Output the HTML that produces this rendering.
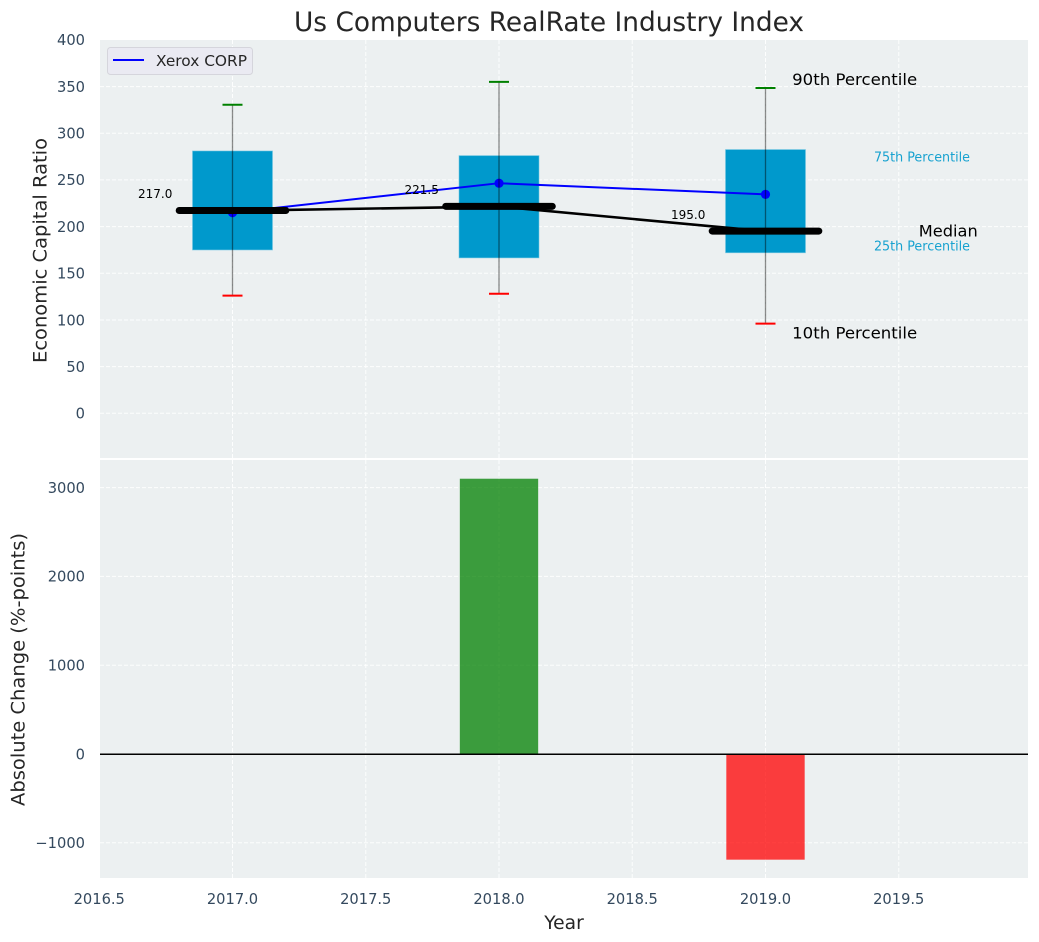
<!DOCTYPE html>
<html>
<head>
<meta charset="utf-8">
<title>Us Computers RealRate Industry Index</title>
<style>
html,body{margin:0;padding:0;background:#fff;width:1039px;height:942px;overflow:hidden}
svg{display:block}
text{font-family:"DejaVu Sans","Liberation Sans",sans-serif}
</style>
</head>
<body>
<svg id="chart" xmlns="http://www.w3.org/2000/svg" width="1039" height="942" viewBox="0 0 1039 942"></svg>
<script>
const years = [2017, 2018, 2019];
const p90 = [330.5, 355, 348.5];
const p75 = [281, 276, 282.5];
const medians = [217, 221.5, 195];
const p25 = [175, 166.5, 172];
const p10 = [126, 128, 96];
const company = [215, 246.5, 234.5];
const companyName = 'Xerox CORP';
const changes = [0, 3100, -1190];
const xTicks = [2016.5, 2017.0, 2017.5, 2018.0, 2018.5, 2019.0, 2019.5];
const yTicksTop = [0, 50, 100, 150, 200, 250, 300, 350, 400];
const yTicksBottom = [-1000, 0, 1000, 2000, 3000];

const NS = 'http://www.w3.org/2000/svg';
const svg = document.getElementById('chart');
const L = 100, R = 1028, T1 = 40, B1 = 458, T2 = 460, B2 = 878;
const X = v => 232.5 + (v - 2017) * 266.5;
const Y1 = v => 413.3 - v * 0.9335;
const Y2 = v => 754 - v * 0.0888;
const BOX_W = 0.3, MED_W = 0.4, CAP = 10;

function el(tag, attrs, txt) {
  const e = document.createElementNS(NS, tag);
  for (const k in attrs) e.setAttribute(k, attrs[k]);
  if (txt !== undefined) e.textContent = txt;
  svg.appendChild(e);
  return e;
}
function fmtTick(v) { return v < 0 ? '\u2212' + Math.abs(v) : String(v); }

let n;
n = el('rect', {x: L, y: T1, width: R - L, height: B1 - T1, fill: '#ecf0f1'});


n = el('rect', {x: L, y: T2, width: R - L, height: B2 - T2, fill: '#ecf0f1'});



const gridStyle = {stroke: '#ffffff', 'stroke-width': 1, 'stroke-dasharray': '4 2', 'stroke-opacity': 0.9};
xTicks.forEach(t => {
  const x = X(t);
  n = el('line', Object.assign({x1: x, x2: x, y1: T1, y2: B1}, gridStyle));
  
  
  n = el('line', Object.assign({x1: x, x2: x, y1: T2, y2: B2}, gridStyle));
  
  
  n = el('text', {x: x, y: 904, 'text-anchor': 'middle', 'font-size': 14.67, fill: '#34495e'}, t.toFixed(1));
  
  
});
yTicksTop.forEach(t => {
  const y = Y1(t);
  if (y > T1 + 1) {
    n = el('line', Object.assign({x1: L, x2: R, y1: y, y2: y}, gridStyle));
    
    
  }
  n = el('text', {x: 85, y: y + 5.3, 'text-anchor': 'end', 'font-size': 14.67, fill: '#34495e'}, fmtTick(t));
  
  
});
yTicksBottom.forEach(t => {
  const y = Y2(t);
  n = el('line', Object.assign({x1: L, x2: R, y1: y, y2: y}, gridStyle));
  
  
  n = el('text', {x: 85, y: y + 5.3, 'text-anchor': 'end', 'font-size': 14.67, fill: '#34495e'}, fmtTick(t));
  
  
});

/* percentile boxes */
years.forEach((yr, i) => {
  const x0 = X(yr - BOX_W / 2), x1 = X(yr + BOX_W / 2);
  n = el('rect', {x: x0, y: Y1(p75[i]), width: x1 - x0, height: Y1(p25[i]) - Y1(p75[i]), fill: '#0099cc', stroke: '#66c2e0', 'stroke-width': 0.8, 'stroke-opacity': 0.7});
  
  
});

/* company markers and line */
const ptsCompany = years.map((yr, i) => X(yr) + ',' + Y1(company[i])).join(' ');
n = el('polyline', {points: ptsCompany, fill: 'none', stroke: '#0000ff', 'stroke-width': 2});


years.forEach((yr, i) => {
  n = el('circle', {cx: X(yr), cy: Y1(company[i]), r: 4.6, fill: '#0000ff'});
  
  
});

/* median connecting line */
const ptsMedian = years.map((yr, i) => X(yr) + ',' + Y1(medians[i])).join(' ');
n = el('polyline', {points: ptsMedian, fill: 'none', stroke: '#000000', 'stroke-width': 2.6});



/* whiskers, caps, medians */
years.forEach((yr, i) => {
  const x = X(yr);
  n = el('line', {x1: x, x2: x, y1: Y1(p90[i]), y2: Y1(p10[i]), stroke: '#000000', 'stroke-width': 1.3, 'stroke-opacity': 0.45});
  
  
  n = el('line', {x1: x - CAP, x2: x + CAP, y1: Y1(p90[i]), y2: Y1(p90[i]), stroke: '#008000', 'stroke-width': 2});
  
  
  n = el('line', {x1: x - CAP, x2: x + CAP, y1: Y1(p10[i]), y2: Y1(p10[i]), stroke: '#ff0000', 'stroke-width': 2});
  
  
  n = el('line', {x1: X(yr - MED_W / 2), x2: X(yr + MED_W / 2), y1: Y1(medians[i]) - 0.2, y2: Y1(medians[i]) - 0.2, stroke: '#000000', 'stroke-width': 7, 'stroke-linecap': 'round'});
  
  
  n = el('text', {x: X(yr - 0.29), y: Y1(medians[i]) - 12.5, 'text-anchor': 'middle', 'font-size': 12, fill: '#000000'}, medians[i].toFixed(1));
  
  
});

/* percentile annotations attached to the last year */
const li = years.length - 1, ly = years[li];
n = el('text', {x: X(ly + 0.1), y: Y1(p90[li]) - 3, 'font-size': 16, textLength: 125, lengthAdjust: 'spacingAndGlyphs', fill: '#000000'}, '90th Percentile');


n = el('text', {x: X(ly + 0.1), y: Y1(p10[li]) + 15, 'font-size': 16, textLength: 125, lengthAdjust: 'spacingAndGlyphs', fill: '#000000'}, '10th Percentile');


n = el('text', {x: X(ly + 0.575), y: Y1(medians[li]) + 5, 'font-size': 16, textLength: 59, lengthAdjust: 'spacingAndGlyphs', fill: '#000000'}, 'Median');


n = el('text', {x: X(ly + 0.407), y: Y1(p75[li]) + 12, 'font-size': 13.33, textLength: 96, lengthAdjust: 'spacingAndGlyphs', fill: '#0099cc', 'fill-opacity': 0.9}, '75th Percentile');


n = el('text', {x: X(ly + 0.407), y: Y1(p25[li]) - 2, 'font-size': 13.33, textLength: 96, lengthAdjust: 'spacingAndGlyphs', fill: '#0099cc', 'fill-opacity': 0.9}, '25th Percentile');



/* change bars */
years.forEach((yr, i) => {
  const v = changes[i];
  const x0 = X(yr - 0.147), x1 = X(yr + 0.147);
  const top = Math.min(Y2(v), Y2(0)), h = Math.abs(Y2(v) - Y2(0));
  n = el('rect', {x: x0, y: top, width: x1 - x0, height: h, fill: v >= 0 ? '#008000' : '#ff0000', 'fill-opacity': 0.75});
  
  
});
n = el('line', {x1: L, x2: R, y1: Y2(0) + 0.2, y2: Y2(0) + 0.2, stroke: '#000000', 'stroke-width': 1.5});



/* legend */
n = el('rect', {x: 107.5, y: 47.5, width: 145, height: 27, rx: 3, fill: '#eaeaf2', stroke: '#d5d5dc', 'stroke-width': 1});


n = el('line', {x1: 113, x2: 144, y1: 60, y2: 60, stroke: '#0000ff', 'stroke-width': 2});


n = el('text', {x: 156, y: 66, 'font-size': 14.67, textLength: 91, lengthAdjust: 'spacingAndGlyphs', fill: '#262626'}, companyName);



/* titles */
n = el('text', {x: 549, y: 31, 'text-anchor': 'middle', 'font-size': 26.67, textLength: 510, lengthAdjust: 'spacingAndGlyphs', fill: '#262626'}, 'Us Computers RealRate Industry Index');


n = el('text', {x: 564, y: 929, 'text-anchor': 'middle', 'font-size': 18.67, fill: '#262626'}, 'Year');


n = el('text', {x: 0, y: 0, 'text-anchor': 'middle', 'font-size': 18.67, textLength: 225, lengthAdjust: 'spacingAndGlyphs', fill: '#262626', transform: 'translate(46.3,250.5) rotate(-90)'}, 'Economic Capital Ratio');


n = el('text', {x: 0, y: 0, 'text-anchor': 'middle', 'font-size': 18.67, textLength: 273, lengthAdjust: 'spacingAndGlyphs', fill: '#262626', transform: 'translate(24.3,669.5) rotate(-90)'}, 'Absolute Change (%-points)');


</script>
</body>
</html>
